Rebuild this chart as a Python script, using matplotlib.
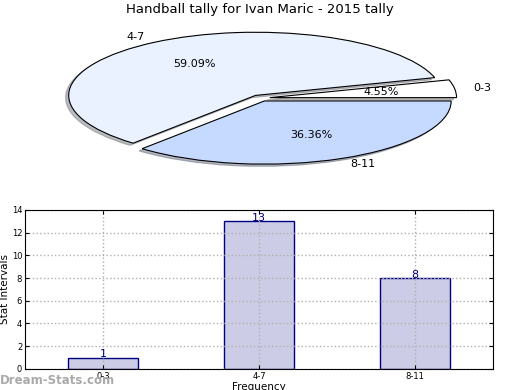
import matplotlib
matplotlib.use("Agg")
import matplotlib.pyplot as plt

labels = ["0-3", "4-7", "8-11"]
counts = [1, 13, 8]
pie_colors = ["#ffffff", "#eaf1ff", "#c6d9fe"]
bar_face = "#ccccE6"
bar_edge = "#000080"

fig = plt.figure(figsize=(5.2, 3.9), dpi=100)

# pie, left elliptical like the old matplotlib output
ax1 = fig.add_axes([0.052, 0.546, 0.898, 0.405])
wedges, texts, autotexts = ax1.pie(
    counts, labels=labels, colors=pie_colors, explode=(0.05, 0.05, 0.05),
    autopct="%1.2f%%", shadow={"ox": -0.012, "oy": -0.025, "shade": 0.5},
    startangle=0,
    wedgeprops=dict(edgecolor="black", linewidth=0.8),
    textprops=dict(fontsize=8),
)
ax1.set_aspect("auto")
ax1.set_xlim(-1.25, 1.25)
ax1.set_ylim(-1.25, 1.25)
fig.text(0.5, 0.975, "Handball tally for Ivan Maric - 2015 tally",
         ha="center", va="center", fontsize=9.5)

# bars
ax2 = fig.add_axes([0.048, 0.054, 0.9, 0.408])
x = list(range(len(labels)))
ax2.bar(x, counts, width=0.45, color=bar_face, edgecolor=bar_edge, linewidth=1)
for i, v in enumerate(counts):
    ax2.text(i, v - 0.15, str(v), ha="center", va="bottom", color=bar_edge, fontsize=8)
ax2.set_xlim(-0.5, 2.5)
ax2.set_ylim(0, 14)
ax2.set_yticks(range(0, 15, 2))
ax2.set_xticks(x)
ax2.set_xticklabels(labels)
ax2.tick_params(labelsize=6, direction="in", right=True, top=True, length=3, pad=2)
ax2.grid(True, linestyle=":", color="#b0b0b0", linewidth=1)
ax2.set_axisbelow(False)
for sp in ax2.spines.values():
    sp.set_zorder(5)
ax2.set_ylabel("Stat Intervals", fontsize=7.5, labelpad=1)
ax2.set_xlabel("Frequency", fontsize=7.5, labelpad=1)

fig.text(0.0, 0.025, "Dream-Stats.com", fontsize=8.5, color="#aaaaaa",
         fontweight="bold", ha="left", va="center")

fig.savefig("out.png", dpi=100)
